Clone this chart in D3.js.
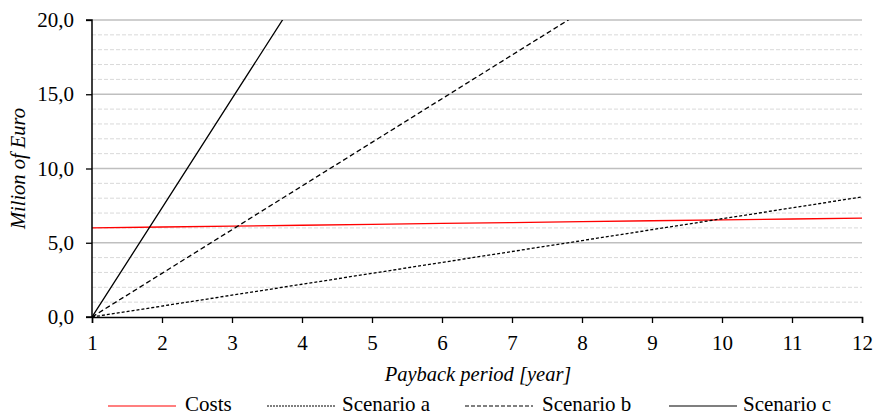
<!DOCTYPE html>
<html>
<head>
<meta charset="utf-8">
<script src="https://cdn.jsdelivr.net/npm/d3@7"></script>
<style>
  body { margin: 0; background: #fff; }
  svg text { font-family: "Liberation Serif", "DejaVu Serif", serif; fill: #000; }
</style>
</head>
<body>
<div id="chart"></div>
<script>
// payback period in years
const years = [1, 2, 3, 4, 5, 6, 7, 8, 9, 10, 11, 12];
// values in million euro
const costs     = [6.00, 6.06, 6.12, 6.18, 6.24, 6.30, 6.36, 6.42, 6.48, 6.54, 6.60, 6.66];
const scenarioA = [0, 0.735, 1.47, 2.205, 2.94, 3.675, 4.41, 5.145, 5.88, 6.615, 7.35, 8.085];
const scenarioB = [0, 2.94, 5.88, 8.82, 11.76, 14.70, 17.64, 20.58, 23.52, 26.46, 29.40, 32.34];
const scenarioC = [0, 7.35, 14.70, 22.05, 29.40, 36.75, 44.10, 51.45, 58.80, 66.15, 73.50, 80.85];
const yTicks = [0, 5, 10, 15, 20];
const yMinor = [1, 2, 3, 4, 6, 7, 8, 9, 11, 12, 13, 14, 16, 17, 18, 19];

const series = [
  {name: 'Costs',      values: costs,     color: '#ff0000', dash: null,  legDash: null,  lx: 108, tx: 185},
  {name: 'Scenario a', values: scenarioA, color: '#000',    dash: '3,2', legDash: '2,1', lx: 267, tx: 342},
  {name: 'Scenario b', values: scenarioB, color: '#000',    dash: '5,3', legDash: '4,2', lx: 465, tx: 542},
  {name: 'Scenario c', values: scenarioC, color: '#000',    dash: null,  legDash: null,  lx: 669, tx: 743}
];

const width = 873, height = 416;
const plotLeft = 92, plotRight = 862, plotTop = 20, plotBottom = 317;
const fontSize = 21;
const serif = '"Liberation Serif", "DejaVu Serif", serif';

const svg = d3.select('#chart').append('svg')
  .attr('width', width)
  .attr('height', height);

const x = d3.scaleLinear().domain([1, 12]).range([plotLeft, plotRight]);
const y = d3.scaleLinear().domain([0, 20]).range([plotBottom, plotTop]);

// minor gridlines
svg.append('g')
  .selectAll('line')
  .data(yMinor)
  .enter()
  .append('line')
  .attr('x1', plotLeft).attr('x2', plotRight)
  .attr('y1', d => y(d)).attr('y2', d => y(d))
  .attr('stroke', '#d9d9d9')
  .attr('stroke-width', 1)
  .attr('stroke-dasharray', '4,2');

// major gridlines
svg.append('g')
  .selectAll('line')
  .data(yTicks.filter(d => d > 0))
  .enter()
  .append('line')
  .attr('x1', plotLeft).attr('x2', plotRight)
  .attr('y1', d => y(d)).attr('y2', d => y(d))
  .attr('stroke', '#bfbfbf')
  .attr('stroke-width', 1.3);

svg.append('clipPath').attr('id', 'plot-clip')
  .append('rect')
  .attr('x', plotLeft).attr('y', plotTop)
  .attr('width', plotRight - plotLeft).attr('height', plotBottom - plotTop);

const line = d3.line()
  .x((d, i) => x(years[i]))
  .y(d => y(d));

svg.append('g')
  .attr('clip-path', 'url(#plot-clip)')
  .selectAll('path')
  .data(series)
  .enter()
  .append('path')
  .attr('d', d => line(d.values))
  .attr('fill', 'none')
  .attr('stroke', d => d.color)
  .attr('stroke-width', 1.3)
  .attr('stroke-dasharray', d => d.dash);

// axes
const yAxis = svg.append('g')
  .attr('transform', `translate(${plotLeft},0)`)
  .call(d3.axisLeft(y).tickValues(yTicks).tickSize(6).tickPadding(12)
    .tickFormat(d => d3.format('.1f')(d).replace('.', ',')));

const xAxis = svg.append('g')
  .attr('transform', `translate(0,${plotBottom})`)
  .call(d3.axisBottom(x).tickValues(years).tickSize(6).tickPadding(12)
    .tickFormat(d3.format('d')));

[xAxis, yAxis].forEach(a => {
  a.attr('font-family', serif).attr('font-size', fontSize);
  a.select('.domain').attr('stroke', '#000').attr('stroke-width', 1.5);
  a.selectAll('.tick line').attr('stroke', '#000').attr('stroke-width', 1.3);
});
yAxis.select('.domain').attr('d', `M-6,${plotTop}H0V${plotBottom}H-6`);

// axis titles
svg.append('text')
  .attr('transform', `translate(25,${(plotTop + plotBottom) / 2}) rotate(-90)`)
  .attr('text-anchor', 'middle')
  .attr('font-size', 20.5)
  .attr('font-style', 'italic')
  .text('Milion of Euro');

svg.append('text')
  .attr('x', 478)
  .attr('y', 381)
  .attr('text-anchor', 'middle')
  .attr('font-size', 20.5)
  .attr('font-style', 'italic')
  .text('Payback period [year]');

// legend
const legend = svg.append('g');
legend.selectAll('line')
  .data(series)
  .enter()
  .append('line')
  .attr('x1', d => d.lx).attr('x2', d => d.lx + 68)
  .attr('y1', 406).attr('y2', 406)
  .attr('stroke', d => d.color)
  .attr('stroke-width', 1.2)
  .attr('stroke-dasharray', d => d.legDash);

legend.selectAll('text')
  .data(series)
  .enter()
  .append('text')
  .attr('x', d => d.tx)
  .attr('y', 411)
  .attr('font-size', fontSize)
  .text(d => d.name);
</script>
</body>
</html>
